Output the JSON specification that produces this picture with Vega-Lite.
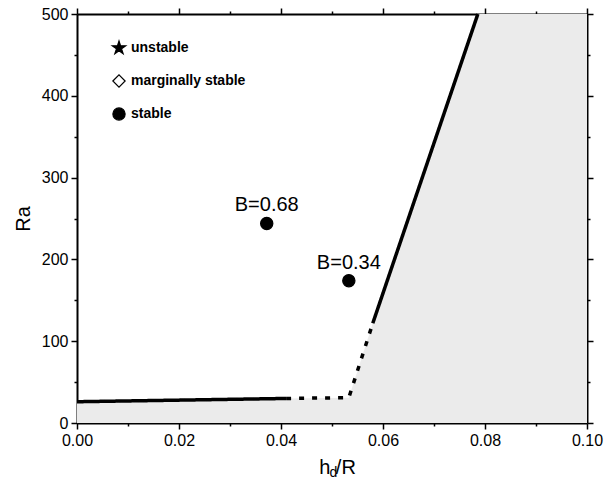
{
  "$schema": "https://vega.github.io/schema/vega-lite/v6.json",
  "width": 510,
  "height": 409,
  "autosize": "none",
  "padding": {"left": 77, "top": 14, "right": 26, "bottom": 55},
  "background": "white",
  "config": {
    "font": "Liberation Sans",
    "view": {"stroke": null},
    "axis": {
      "domainColor": "black", "domainWidth": 2, "tickColor": "black", "tickWidth": 1.5,
      "labelColor": "black", "labelFont": "Liberation Sans", "labelFontSize": 16,
      "titleFont": "Liberation Sans", "titleFontWeight": "normal", "titleFontSize": 20, "titleColor": "black",
      "grid": false, "labelPadding": 3, "labelFlush": false, "labelOverlap": false, "zindex": 1
    }
  },
  "datasets": {
    "boundary": [
      {"h": 0, "Ra": 26},
      {"h": 0.041, "Ra": 30},
      {"h": 0.0533, "Ra": 31},
      {"h": 0.058, "Ra": 122},
      {"h": 0.0786, "Ra": 500},
      {"h": 0.1, "Ra": 500}
    ],
    "curve": [
      {"seg": "a", "style": "solid", "order": 1, "h": 0, "Ra": 26},
      {"seg": "a", "style": "solid", "order": 2, "h": 0.041, "Ra": 30},
      {"seg": "b", "style": "dotted", "order": 1, "h": 0.041, "Ra": 30},
      {"seg": "b", "style": "dotted", "order": 2, "h": 0.0533, "Ra": 31},
      {"seg": "b", "style": "dotted", "order": 3, "h": 0.058, "Ra": 122},
      {"seg": "c", "style": "solid", "order": 1, "h": 0.058, "Ra": 122},
      {"seg": "c", "style": "solid", "order": 2, "h": 0.0786, "Ra": 500}
    ],
    "points": [
      {"h": 0.0372, "Ra": 244, "status": "stable", "label": "B=0.68"},
      {"h": 0.0533, "Ra": 174, "status": "stable", "label": "B=0.34"}
    ]
  },
  "layer": [
    {
      "data": {"name": "boundary"},
      "mark": {"type": "area", "color": "#ebebeb"},
      "encoding": {
        "x": {"field": "h", "type": "quantitative", "scale": {"domain": [0, 0.1], "nice": false},
          "axis": {"orient": "bottom", "values": [0, 0.01, 0.02, 0.03, 0.04, 0.05, 0.06, 0.07, 0.08, 0.09, 0.1],
            "domainColor": "black", "tickColor": "black",
            "labelExpr": "round(datum.value * 100) % 2 == 0 ? format(datum.value, '.2f') : ''",
            "tickSize": {"condition": {"test": "round(datum.value * 100) % 2 == 0", "value": 6}, "value": 3},
            "title": "h   /R", "titleX": 260, "titleY": 50, "titleBaseline": "alphabetic", "titleAnchor": "middle"}},
        "y": {"field": "Ra", "type": "quantitative", "scale": {"domain": [0, 500], "nice": false},
          "axis": {"orient": "left", "values": [0, 50, 100, 150, 200, 250, 300, 350, 400, 450, 500],
            "domainColor": "black", "tickColor": "black",
            "labelExpr": "datum.value % 100 == 0 ? datum.label : ''",
            "tickSize": {"condition": {"test": "datum.value % 100 == 0", "value": 6}, "value": 3},
            "title": "Ra", "titlePadding": 8}},
        "y2": {"datum": 0}
      }
    },
    {
      "data": {"name": "curve"},
      "mark": {"type": "line", "color": "black", "strokeWidth": 3.5, "strokeCap": "butt"},
      "encoding": {
        "x": {"field": "h", "type": "quantitative", "axis": null},
        "y": {"field": "Ra", "type": "quantitative", "axis": null},
        "detail": {"field": "seg"},
        "order": {"field": "order", "type": "quantitative"},
        "strokeDash": {"field": "style", "type": "nominal", "scale": {"domain": ["solid", "dotted"], "range": [[1, 0], [5, 8]]}, "legend": null}
      }
    },
    {
      "data": {"name": "points"},
      "mark": {"type": "point", "filled": true, "size": 150, "strokeWidth": 1.2, "opacity": 1},
      "encoding": {
        "x": {"field": "h", "type": "quantitative",
          "axis": {"orient": "top", "values": [0, 0.01, 0.02, 0.03, 0.04, 0.05, 0.06, 0.07, 0.08, 0.09, 0.1], "labels": false,
            "domainColor": "black", "tickColor": "black",
            "title": "d", "titleFontSize": 14, "titleX": 256, "titleY": 462, "titleBaseline": "alphabetic", "titleAnchor": "middle",
            "tickSize": {"condition": {"test": "round(datum.value * 100) % 2 == 0", "value": 6}, "value": 3}}},
        "y": {"field": "Ra", "type": "quantitative",
          "axis": {"orient": "right", "values": [0, 50, 100, 150, 200, 250, 300, 350, 400, 450, 500], "labels": false, "title": null,
            "domainColor": "black", "tickColor": "black",
            "tickSize": {"condition": {"test": "datum.value % 100 == 0", "value": 6}, "value": 3}}},
        "shape": {"field": "status", "type": "nominal",
          "scale": {"domain": ["unstable", "marginally stable", "stable"],
            "range": ["M0,-1.15L0.258,-0.355L1.094,-0.355L0.418,0.136L0.676,0.93L0,0.439L-0.676,0.93L-0.418,0.136L-1.094,-0.355L-0.258,-0.355Z", "diamond", "circle"]},
          "legend": {"orient": "none", "legendX": 35, "legendY": 27, "title": null, "padding": 0,
            "labelFont": "Liberation Sans", "labelFontWeight": "bold", "labelFontSize": 14, "labelColor": "black", "labelOffset": 5,
            "symbolSize": 150, "rowPadding": 15, "symbolStrokeColor": "black", "symbolStrokeWidth": 1.2}},
        "fill": {"field": "status", "type": "nominal",
          "scale": {"domain": ["unstable", "marginally stable", "stable"], "range": ["black", "white", "black"]},
          "legend": {"orient": "none", "legendX": 35, "legendY": 27, "title": null, "padding": 0,
            "labelFont": "Liberation Sans", "labelFontWeight": "bold", "labelFontSize": 14, "labelColor": "black", "labelOffset": 5,
            "symbolSize": 150, "rowPadding": 15, "symbolStrokeColor": "black", "symbolStrokeWidth": 1.2}},
        "stroke": {"field": "status", "type": "nominal",
          "scale": {"domain": ["unstable", "marginally stable", "stable"], "range": ["black", "black", "black"]},
          "legend": {"orient": "none", "legendX": 35, "legendY": 27, "title": null, "padding": 0,
            "labelFont": "Liberation Sans", "labelFontWeight": "bold", "labelFontSize": 14, "labelColor": "black", "labelOffset": 5,
            "symbolSize": 150, "rowPadding": 15, "symbolStrokeColor": "black", "symbolStrokeWidth": 1.2}}
      }
    },
    {
      "data": {"name": "points"},
      "mark": {"type": "text", "fontSize": 20, "font": "Liberation Sans", "color": "black", "baseline": "alphabetic", "align": "center", "dy": -12},
      "encoding": {
        "x": {"field": "h", "type": "quantitative", "axis": null},
        "y": {"field": "Ra", "type": "quantitative", "axis": null},
        "text": {"field": "label"}
      }
    }
  ],
  "resolve": {"axis": {"x": "independent", "y": "independent"}}
}
